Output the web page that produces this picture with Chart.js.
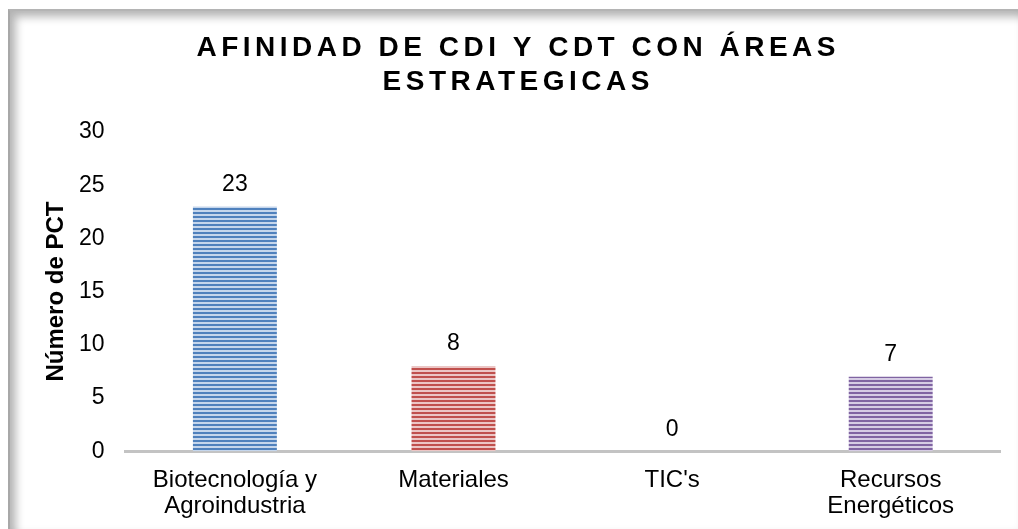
<!DOCTYPE html>
<html>
<head>
<meta charset="utf-8">
<script src="https://cdn.jsdelivr.net/npm/chart.js@4.4.1/dist/chart.umd.min.js"></script>
<style>
  html, body { margin: 0; padding: 0; background: #ffffff; }
  #wrap { position: relative; width: 1018px; height: 529px; overflow: hidden; }
  #frame {
    position: absolute; left: 8px; top: 9px; width: 1016px; height: 526px;
    border-top: 2px solid #b4b4b4; border-left: 2px solid #a8a8a8;
    box-shadow: inset 6px 6px 9px rgba(0,0,0,0.28), inset -4px -4px 8px rgba(0,0,0,0.12);
    background: #ffffff;
  }
  #c { position: absolute; left: 0; top: 0; }
</style>
</head>
<body>
<div id="wrap">
  <div id="frame"></div>
  <canvas id="c" width="1018" height="529"></canvas>
</div>
<script>
const titleLines = ['AFINIDAD DE CDI Y CDT CON ÁREAS', 'ESTRATEGICAS'];
const yAxisTitle = 'Número de PCT';
const categories = [['Biotecnología y', 'Agroindustria'], 'Materiales', "TIC's", ['Recursos', 'Energéticos']];
const values = [23, 8, 0, 7];
const yTicks = [0, 5, 10, 15, 20, 25, 30];

const FONT = '"Liberation Sans", Arial, sans-serif';

function stripePattern(dark, light) {
  const p = document.createElement('canvas');
  p.width = 4; p.height = 4;
  const g = p.getContext('2d');
  g.fillStyle = light; g.fillRect(0, 0, 4, 4);
  g.fillStyle = dark; g.fillRect(0, 0, 4, 2);
  return document.getElementById('c').getContext('2d').createPattern(p, 'repeat');
}

const barFills = [
  stripePattern('#4f81bd', '#c5d6ec'),
  stripePattern('#c0504d', '#ecc6c5'),
  stripePattern('#c0504d', '#ecc6c5'),
  stripePattern('#8064a2', '#d6cce4')
];

const titlePlugin = {
  id: 'spacedTitle',
  afterDraw(chart) {
    const ctx = chart.ctx;
    ctx.save();
    ctx.font = 'bold 28px ' + FONT;
    ctx.fillStyle = '#000';
    ctx.textAlign = 'center';
    ctx.textBaseline = 'middle';
    const sp = 4.5;
    ctx.letterSpacing = sp + 'px';
    const cx = 516 + sp / 2;
    titleLines.forEach((t, i) => ctx.fillText(t, cx, 48 + i * 34));
    ctx.restore();
    // y-axis title
    ctx.save();
    ctx.font = 'bold 24px ' + FONT;
    ctx.fillStyle = '#000';
    ctx.textAlign = 'center';
    ctx.textBaseline = 'middle';
    ctx.translate(56, (chart.chartArea.top + chart.chartArea.bottom) / 2);
    ctx.rotate(-Math.PI / 2);
    ctx.fillText(yAxisTitle, 0, 0);
    ctx.restore();
  }
};

const valueLabels = {
  id: 'valueLabels',
  afterDatasetsDraw(chart) {
    const ctx = chart.ctx;
    const meta = chart.getDatasetMeta(0);
    ctx.save();
    ctx.font = '23px ' + FONT;
    ctx.fillStyle = '#000';
    ctx.textAlign = 'center';
    ctx.textBaseline = 'middle';
    meta.data.forEach((bar, i) => {
      ctx.fillText(String(values[i]), bar.x, bar.y - 22);
    });
    ctx.restore();
  }
};

new Chart(document.getElementById('c'), {
  type: 'bar',
  data: {
    labels: categories,
    datasets: [{
      data: values,
      backgroundColor: barFills,
      borderWidth: 0,
      barPercentage: 0.384,
      categoryPercentage: 1.0
    }]
  },
  options: {
    responsive: false,
    animation: false,
    events: [],
    layout: { padding: { top: 132, right: 18, left: 58, bottom: -6 } },
    plugins: {
      legend: { display: false },
      tooltip: { enabled: false },
      title: { display: false }
    },
    scales: {
      x: {
        grid: { display: false, drawTicks: false },
        border: { display: true, color: '#c3c3c3', width: 3 },
        ticks: { color: '#000', font: { family: FONT, size: 24, lineHeight: 1.08 }, padding: 16, maxRotation: 0, autoSkip: false }
      },
      y: {
        min: 0, max: 30,
        afterBuildTicks(axis) { axis.ticks = yTicks.map(v => ({ value: v })); },
        grid: { display: false, drawTicks: false },
        border: { display: false },
        ticks: { color: '#000', font: { family: FONT, size: 23 }, padding: 21 },
        title: { display: false }
      }
    }
  },
  plugins: [titlePlugin, valueLabels]
});
</script>
</body>
</html>
